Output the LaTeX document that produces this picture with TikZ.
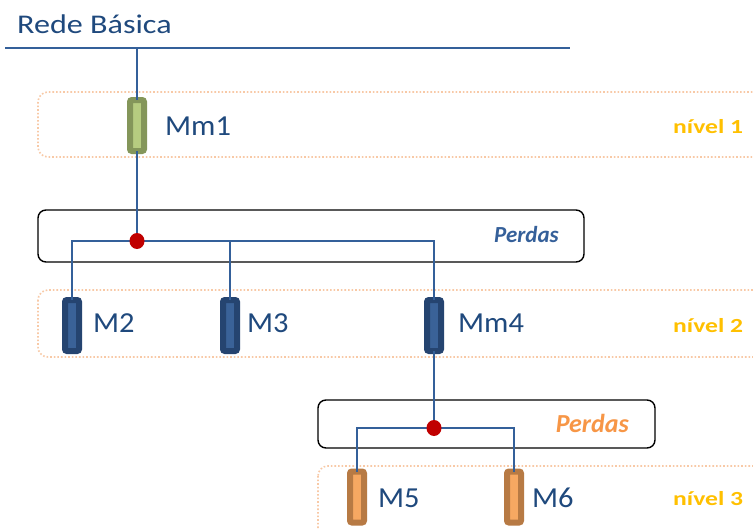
\documentclass[tikz,border=0pt]{standalone}
\usepackage{fontspec}
\usetikzlibrary{shapes.geometric}
\setmainfont{Carlito}
\definecolor{txtblue}{HTML}{1F497D}
\definecolor{wireblue}{HTML}{34609A}
\definecolor{lvlorange}{HTML}{F8C9A6}
\definecolor{gold}{HTML}{FFC000}
\definecolor{perdasorange}{HTML}{F79646}
\definecolor{perdasblue}{HTML}{35609A}
\definecolor{gOut}{HTML}{84965A}
\definecolor{gIn}{HTML}{B6CC80}
\definecolor{bOut}{HTML}{254470}
\definecolor{bIn}{HTML}{3A6298}
\definecolor{oOut}{HTML}{B77A44}
\definecolor{oIn}{HTML}{F6A862}
\definecolor{dotred}{HTML}{C00000}
\tikzset{
  lvlbox/.style={draw=lvlorange, dotted, line width=1.6pt, rounded corners=10pt},
  lossbox/.style={draw=black, line width=1.4pt, rounded corners=8pt},
  wire/.style={draw=wireblue, line width=1.8pt},
  resist/.style={rectangle, minimum width=14pt, minimum height=51pt, inner sep=0pt, line width=6pt, rounded corners=2pt},
  resG/.style={resist, draw=gOut, fill=gIn},
  resB/.style={resist, draw=bOut, fill=bIn},
  resO/.style={resist, draw=oOut, fill=oIn},
  lab/.style={anchor=base west, text=txtblue, font=\fontsize{29}{32}\selectfont, inner sep=0pt},
  nivel/.style={anchor=base west, text=gold, font=\bfseries\fontsize{20}{22}\selectfont, inner sep=0pt},
  perdas/.style={anchor=base east, font=\bfseries\itshape\fontsize{23}{25}\selectfont, inner sep=0pt},
  jdot/.style={ellipse, fill=dotred, minimum width=15pt, minimum height=16pt, inner sep=0pt}
}
\begin{document}
\begin{tikzpicture}[x=1pt,y=-1pt]
\clip (0,0) rectangle (753,530);
\fill[white] (0,0) rectangle (753,530);

% title and bus
\node[lab, font=\fontsize{27}{30}\selectfont] (title) at (17,34) {\scalebox{1.19}[1]{Rede Básica}};
\coordinate (busL) at (5,48);
\coordinate (busR) at (570,48);
\draw[wire] (busL) -- (busR);

% level boxes
\draw[lvlbox] (38,92) rectangle (790,157);
\draw[lvlbox] (38,290) rectangle (790,357);
\draw[lvlbox] (318,466) rectangle (790,560);

% loss boxes
\draw[lossbox] (38,210) rectangle (584,262);
\draw[lossbox] (318,400) rectangle (655,448);
\node[perdas, text=perdasblue] (p1) at (559,242.5) {Perdas};
\node[perdas, text=perdasorange, font=\bfseries\itshape\fontsize{26}{28}\selectfont] (p2) at (629,432) {Perdas};

% resistors
\node[resG] (mm1) at (137,125.5) {};
\node[resB] (m2) at (72,325.5) {};
\node[resB] (m3) at (230,325.5) {};
\node[resB] (mm4) at (434,325.5) {};
\node[resO] (m5) at (357,497) {};
\node[resO] (m6) at (514,497) {};

% labels
\node[lab] (lmm1) at (165,135) {\scalebox{1.05}[1]{Mm1}};
\node[lab] (lm2) at (93,332) {\scalebox{1.05}[1]{M2}};
\node[lab] (lm3) at (247,332) {\scalebox{1.05}[1]{M3}};
\node[lab] (lmm4) at (458,332) {\scalebox{1.05}[1]{Mm4}};
\node[lab] (lm5) at (378,507) {\scalebox{1.05}[1]{M5}};
\node[lab] (lm6) at (532,507) {\scalebox{1.05}[1]{M6}};
\node[nivel] (n1) at (673,133.5) {\scalebox{1.28}[1]{nível 1}};
\node[nivel] (n2) at (673,332) {\scalebox{1.28}[1]{nível 2}};
\node[nivel] (n3) at (673,505) {\scalebox{1.28}[1]{nível 3}};

% junctions
\coordinate (j1) at (137,241);
\coordinate (j2) at (434,428);

% wires
\draw[wire] (mm1.north |- busL) -- ([yshift=-3pt]mm1.north);
\draw[wire] ([yshift=3pt]mm1.south) -- (j1);
\draw[wire] ([yshift=-3pt]m2.north) |- (j1) -| ([yshift=-3pt]mm4.north);
\draw[wire] (j1) -| ([yshift=-3pt]m3.north);
\draw[wire] ([yshift=3pt]mm4.south) -- (j2);
\draw[wire] ([yshift=-3pt]m5.north) |- (j2) -| ([yshift=-3pt]m6.north);

\node[jdot] (d1) at (j1) {};
\node[jdot] (d2) at (j2) {};
\end{tikzpicture}
\end{document}
